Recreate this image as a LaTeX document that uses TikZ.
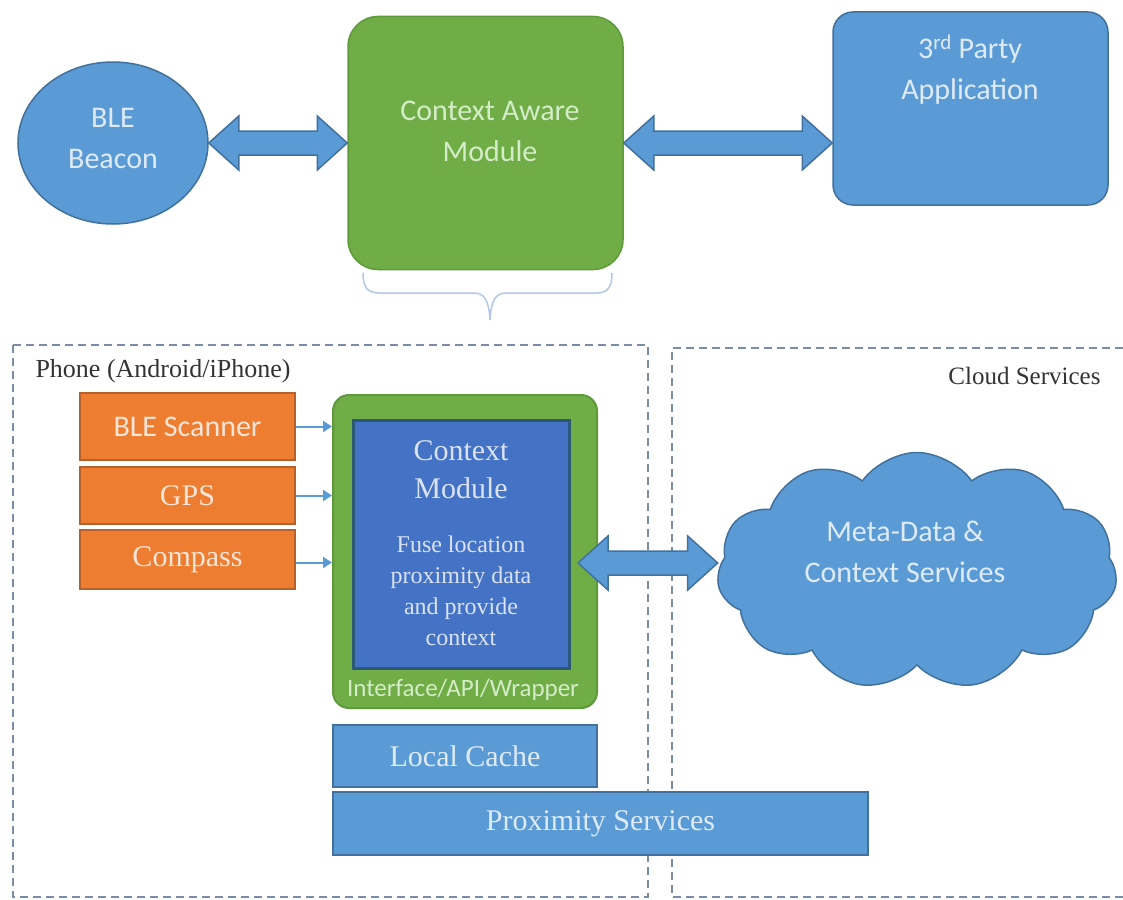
\documentclass[tikz,border=0pt]{standalone}
\usepackage{fontspec}
\setmainfont{Liberation Serif}
\newfontfamily\calib{Carlito}
\usetikzlibrary{shapes.geometric,shapes.symbols,arrows.meta,calc}
\definecolor{ablue}{HTML}{5B9BD5}
\definecolor{abluebd}{HTML}{41719C}
\definecolor{agreen}{HTML}{70AD47}
\definecolor{agreenbd}{HTML}{5E9A3A}
\definecolor{aorange}{HTML}{ED7D31}
\definecolor{aorangebd}{HTML}{B8602A}
\definecolor{dblue}{HTML}{4472C4}
\definecolor{dbluebd}{HTML}{2B5876}
\definecolor{dashc}{HTML}{7B8DA6}
\definecolor{bracec}{HTML}{B4C7E7}
\definecolor{txtblue}{HTML}{DEEBF7}
\definecolor{txtdblue}{HTML}{DAE3F3}
\definecolor{txtgreen}{HTML}{D5ECC8}
\definecolor{txtorange}{HTML}{FBE5D6}
\definecolor{labgray}{HTML}{333333}
\newcommand{\hdblarrow}[2]{%
  \path[fatarrow] let \p1=(#1), \p2=(#2) in
  (\x1,\y1) -- (\x1+30pt,\y1+27pt) -- (\x1+30pt,\y1+12pt) -- (\x2-30pt,\y1+12pt)
  -- (\x2-30pt,\y1+27pt) -- (\x2,\y1) -- (\x2-30pt,\y1-27pt) -- (\x2-30pt,\y1-12pt)
  -- (\x1+30pt,\y1-12pt) -- (\x1+30pt,\y1-27pt) -- cycle;}
\begin{document}
\begin{tikzpicture}[x=1pt,y=-1pt,
  sanstxt/.style={font=\calib\fontsize{30}{41}\selectfont, align=center},
  seriftxt/.style={font=\fontsize{30}{38}\selectfont, align=center},
  fatarrow/.style={fill=ablue, draw=abluebd, line width=1.5pt, line join=miter},
  zone/.style={draw=dashc, line width=2.5pt, dash pattern=on 8pt off 5pt},
  bluebox/.style={fill=ablue, draw=abluebd, line width=1.5pt},
  orangebox/.style={fill=aorange, draw=aorangebd, line width=2pt, minimum width=215,
     text=txtorange, inner sep=0pt},
  smallarr/.style={draw=ablue, line width=2pt, -{Triangle[width=11pt,length=9pt]}},
  lab/.style={text=labgray, font=\fontsize{26}{30}\selectfont}
]
\useasboundingbox (0,0) rectangle (1123,899);
\fill[white] (0,0) rectangle (1123,899);

% dashed zones
\draw[zone] (13,345) rectangle (648,897);
\draw[zone] (1123,348) -- (672,348) -- (672,897) -- (1123,897);
\node[lab, anchor=west] (phonelab) at (32,371) {Phone (Android/iPhone)};
\node[lab, anchor=east, font=\fontsize{25}{30}\selectfont] (cloudlab) at (1104,376) {Cloud Services};

% top row
\node[ellipse, bluebox, minimum width=190, minimum height=162, inner sep=0pt] (ble) at (113,143) {};
\node[sanstxt, text=txtblue] (bletxt) at (113,138) {BLE\\Beacon};
\node[fill=agreen, draw=agreenbd, line width=1.5pt, rounded corners=30pt, minimum width=275,
      minimum height=253, inner sep=0pt] (cam) at (485.5,143) {};
\node[sanstxt, text=txtgreen] (camtxt) at (490,131) {Context Aware\\Module};
\node[bluebox, rounded corners=20pt, minimum width=275, minimum height=193, inner sep=0pt]
      (app) at (970.5,108.5) {};
\node[sanstxt, text=txtblue] (apptxt) at (970,70) {3\textsuperscript{rd} Party\\Application};

\coordinate (a2r) at (app.west |- cam.east);
\hdblarrow{ble.east}{cam.west}
\hdblarrow{cam.east}{a2r}

% brace
\draw[bracec, line width=1.5pt] (363,273) .. controls (363,287) and (367,293) .. (380,293)
  -- (474,293) .. controls (484,293) and (489,300) .. (490,320)
  .. controls (491,300) and (496,293) .. (506,293)
  -- (596,293) .. controls (608,293) and (612,287) .. (612,273);

% phone contents
\node[orangebox, minimum height=67, font=\calib\fontsize{30}{36}\selectfont] (bles) at (187.5,426.5) {BLE Scanner};
\node[orangebox, minimum height=57, font=\fontsize{30}{36}\selectfont] (gps) at (187.5,495.5) {GPS};
\node[orangebox, minimum height=59, font=\fontsize{30}{36}\selectfont] (comp) at (187.5,559.5) {Compass};

\node[fill=agreen, draw=agreenbd, line width=2pt, rounded corners=16pt, minimum width=264,
      minimum height=313, inner sep=0pt] (wrap) at (465,551.5) {};
\node[fill=dblue, draw=dbluebd, line width=3pt, minimum width=216, minimum height=248, inner sep=0pt]
      (ctx) at (461,544) {};
\node[seriftxt, text=txtdblue] (ctxtitle) at (461,470) {Context\\Module};
\node[text=txtdblue, font=\fontsize{24}{31}\selectfont, align=center] (ctxdesc) at (461,591)
      {Fuse location\\proximity data\\and provide\\context};
\node[text=txtgreen, font=\calib\fontsize{25}{30}\selectfont] (wraptxt) at (463,690) {Interface/API/Wrapper};

\draw[smallarr] (bles.east) -- (bles.east -| wrap.west);
\draw[smallarr] (gps.east) -- (gps.east -| wrap.west);
\draw[smallarr] ([yshift=-3pt]comp.east) -- ([yshift=-3pt]comp.east -| wrap.west);

\node[bluebox, minimum width=264, minimum height=62, inner sep=0pt, text=txtblue,
      font=\fontsize{30}{36}\selectfont] (cache) at (465,756) {Local Cache};
\node[bluebox, minimum width=535, minimum height=63, inner sep=0pt, text=txtblue,
      font=\fontsize{30}{36}\selectfont] (prox) at (600.5,823.5) {Proximity Services};

% cloud
\node[cloud, cloud puffs=11, cloud puff arc=110, aspect=1.7, minimum width=400,
      minimum height=237, bluebox, inner sep=0pt] (cloud) at (917,571) {};
\node[sanstxt, text=txtblue] (cloudtxt) at (905,552) {Meta-Data \&\\Context Services};

\coordinate (a3l) at (578,563);
\coordinate (a3r) at (cloud.west |- a3l);
\hdblarrow{a3l}{a3r}
\end{tikzpicture}
\end{document}
